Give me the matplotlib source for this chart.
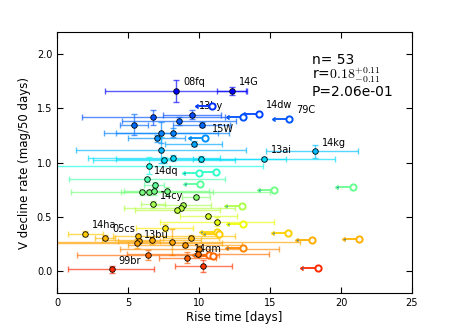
import matplotlib

matplotlib.use("Agg")
import matplotlib.pyplot as plt
import numpy as np
from matplotlib import cm

# Measured points (filled): rise time [days] with asymmetric errors, decline rate
names = [
    "08fq", "14G", "13by", "", "", "", "", "", "", "", "", "", "14kg", "", "",
    "", "13ai", "", "14dq", "", "", "", "", "", "", "14cy", "", "", "", "",
    "", "14ha", "05cs", "", "", "", "", "13bu", "", "", "", "", "", "14gm",
    "", "99br", "",
]
rise = [
    8.38, 12.3, 9.48, 6.78, 8.61, 5.42, 10.19, 7.32, 8.14, 7.02, 9.62, 7.32,
    18.19, 8.19, 7.54, 10.14, 14.6, 6.5, 6.31, 6.9, 5.96, 6.5, 6.85,
    7.72, 9.77, 6.78, 8.85, 8.73, 8.47, 10.66, 11.27, 1.95, 3.38, 7.58, 5.73,
    9.44, 5.77, 5.61, 6.67, 8.1, 9.01, 10.02, 9.95, 9.18, 6.39, 3.85, 10.3,
]
rise_lo = [
    5.0, 1.0, 2.0, 5.0, 4.0, 1.0, 2.0, 4.0, 4.0, 2.0, 2.0, 6.0,
    3.5, 6.0, 5.0, 6.0, 5.0, 8.0, 5.5, 0.8, 5.0, 2.0, 1.0,
    3.0, 1.0, 0.9, 2.0, 4.0, 3.0, 2.0, 4.0, 1.15, 0.7, 2.0, 1.8,
    2.0, 1.5, 6.0, 3.5, 9.0, 4.0, 5.6, 5.0, 2.0, 5.0, 3.05, 2.0,
]
rise_hi = [
    4.9, 1.05, 2.05, 5.05, 4.0, 1.0, 2.0, 4.0, 4.0, 2.0, 2.0, 6.0,
    3.0, 3.3, 5.0, 6.0, 5.0, 8.0, 5.5, 0.6, 5.0, 8.5, 1.0,
    3.0, 1.0, 0.8, 2.0, 3.8, 3.0, 2.0, 4.0, 1.3, 0.7, 2.0, 6.8,
    2.0, 1.5, 6.0, 3.5, 9.0, 4.0, 5.6, 5.0, 2.0, 5.0, 3.0, 2.0,
]
decline = [
    1.658, 1.658, 1.44, 1.416, 1.383, 1.349, 1.349, 1.275, 1.275, 1.223,
    1.174, 1.119, 1.104, 1.04, 1.025, 1.034, 1.034, 0.972, 0.844,
    0.792, 0.725, 0.725, 0.737, 0.737, 0.682, 0.615, 0.612, 0.584, 0.56,
    0.505, 0.456, 0.346, 0.309, 0.40, 0.321, 0.309, 0.278, 0.257, 0.284,
    0.269, 0.245, 0.208, 0.162, 0.126, 0.15, 0.018, 0.049,
]
decline_err = [
    0.10, 0.04, 0.04, 0.067, 0.04, 0.095, 0.02, 0.10, 0.04, 0.03,
    0.02, 0.12, 0.06, 0.03, 0.03, 0.03, 0.02, 0.075, 0.02,
    0.03, 0.02, 0.02, 0.04, 0.04, 0.02, 0.03, 0.02, 0.02, 0.02,
    0.02, 0.04, 0.02, 0.02, 0.03, 0.02, 0.02, 0.02, 0.04, 0.03,
    0.115, 0.02, 0.02, 0.03, 0.05, 0.05, 0.03, 0.055,
]

# Upper limits on rise time (open circles)
lim_names = [
    "", "", "14dw", "79C", "15W", "", "", "", "", "", "",
    "", "", "", "", "", "", "", "", "", "",
]
lim_rise = [
    10.94, 13.12, 14.25, 16.34, 10.42, 10.02, 11.17, 10.07, 15.28, 20.82,
    13.0, 13.12, 11.24, 11.4, 16.29, 17.98, 21.3, 13.07, 10.73, 11.0, 18.36,
]
lim_decline = [
    1.523, 1.415, 1.447, 1.40, 1.227, 0.905, 0.911, 0.804, 0.75, 0.774,
    0.60, 0.437, 0.364, 0.346, 0.355, 0.287, 0.294, 0.211, 0.147, 0.14, 0.028,
]

n_obj = 53
r_val, r_up, r_dn = 0.18, 0.11, 0.11
p_val = 0.206

ARROW = 1.0


def decline_color(y):
    v = np.interp(y, [0.0, 0.5, 1.1, 1.7], [0.88, 0.61, 0.31, 0.11])
    return cm.jet(v)


plt.rcParams["mathtext.fontset"] = "cm"
fig = plt.figure(figsize=(4.58, 3.27), dpi=100)
ax = fig.add_axes([0.1245, 0.104, 0.775, 0.798])

for i in range(len(rise)):
    c = decline_color(decline[i])
    ax.errorbar(
        rise[i], decline[i], xerr=[[rise_lo[i]], [rise_hi[i]]],
        yerr=decline_err[i], fmt="none", ecolor=c, elinewidth=1.0,
        capsize=2, alpha=0.65, zorder=2,
    )
    ax.plot(rise[i], decline[i], "o", ms=4, mfc=c, mec="k", mew=0.6, zorder=4)
    if names[i]:
        ax.annotate(names[i], (rise[i], decline[i]), xytext=(5, 4),
                    textcoords="offset points", fontsize=7)

for i in range(len(lim_rise)):
    c = decline_color(lim_decline[i])
    ax.errorbar(
        lim_rise[i], lim_decline[i], xerr=ARROW, xuplims=True, fmt="none",
        ecolor=c, elinewidth=1.3, capsize=1.5, zorder=3,
    )
    ax.plot(lim_rise[i], lim_decline[i], "o", ms=4.5, mfc="white", mec=c,
            mew=1.4, zorder=4)
    if lim_names[i]:
        ax.annotate(lim_names[i], (lim_rise[i], lim_decline[i]), xytext=(5, 4),
                    textcoords="offset points", fontsize=7)

ax.text(0.718, 0.893, f"n= {n_obj}", transform=ax.transAxes, fontsize=10,
        va="center")
ax.text(0.718, 0.835, f"r=${r_val:.2f}^{{+{r_up:.2f}}}_{{-{r_dn:.2f}}}$",
        transform=ax.transAxes, fontsize=10, va="center")
ax.text(0.718, 0.77, f"P={p_val:.2e}", transform=ax.transAxes, fontsize=10,
        va="center")

ax.set_xlim(0, 25)
ax.set_ylim(-0.2, 2.2)
ax.set_xticks(np.arange(0, 26, 5))
ax.set_yticks(np.arange(0, 2.1, 0.5))
ax.tick_params(direction="in", top=True, right=True, labelsize=7, length=4)
ax.set_xlabel("Rise time [days]", fontsize=8.5, labelpad=2)
ax.set_ylabel("V decline rate (mag/50 days)", fontsize=8.5, labelpad=4)

fig.savefig("out.png", dpi=100)
